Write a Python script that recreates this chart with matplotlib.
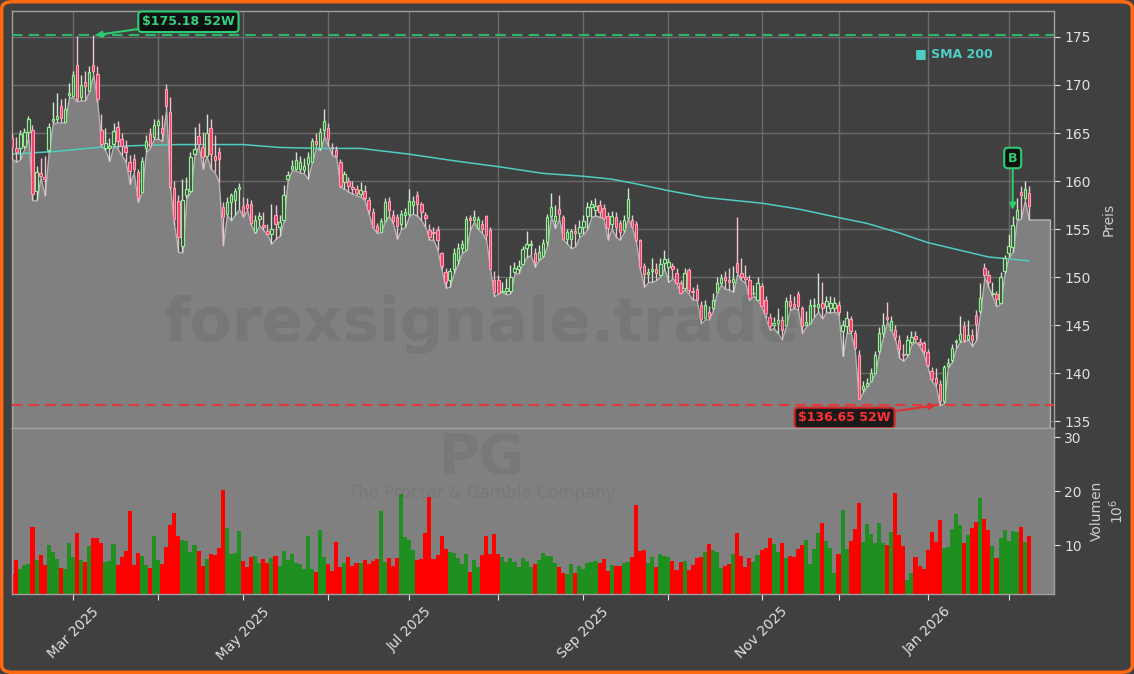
import matplotlib.pyplot as plt
import numpy as np
import pandas as pd
from matplotlib.patches import FancyBboxPatch

# handelstage (NYSE), feiertage raus
holidays = ['2025-02-17', '2025-04-18', '2025-05-26', '2025-06-19', '2025-07-04',
            '2025-09-01', '2025-11-27', '2025-12-25', '2026-01-01', '2026-01-19']
dates = pd.bdate_range('2025-02-07', '2026-02-09')
dates = dates[~dates.isin(pd.to_datetime(holidays))]

opens = [
    164.5, 163.4, 163.4, 163.7, 165.1, 165.3, 159.0, 160.8, 160.4, 163.2,
    166.2, 166.5, 167.8, 166.1, 169.0, 168.9, 172.1, 168.7, 170.3, 169.4,
    172.1, 171.1, 165.3, 163.4, 163.4, 163.9, 165.6, 164.4, 163.5, 162.0,
    162.3, 160.9, 158.9, 163.4, 164.9, 164.6, 165.8, 165.5, 169.6, 167.2,
    159.3, 157.9, 153.2, 158.5, 159.0, 162.8, 164.7, 163.5, 162.6, 165.5,
    162.6, 163.0, 157.3, 156.6, 157.8, 158.0, 159.2, 157.4, 157.6, 157.6,
    154.7, 156.1, 155.4, 154.8, 154.5, 156.5, 155.2, 156.0, 160.2, 161.3,
    161.3, 161.3, 161.1, 161.8, 162.0, 164.2, 163.4, 165.3, 165.5, 163.5,
    163.2, 162.0, 159.9, 160.0, 159.4, 159.2, 158.7, 159.0, 158.0, 156.8,
    155.3, 154.7, 155.8, 157.9, 156.5, 156.3, 155.5, 156.5, 156.6, 157.5,
    158.5, 157.6, 156.5, 154.9, 154.7, 154.9, 152.5, 150.5, 149.7, 150.9,
    151.8, 153.0, 152.8, 156.2, 156.0, 155.1, 155.5, 156.4, 154.9, 149.7,
    149.7, 148.5, 148.6, 148.6, 150.5, 150.8, 151.4, 153.0, 153.3, 152.5,
    151.9, 152.2, 153.7, 156.4, 155.8, 157.1, 156.3, 154.0, 154.0, 154.8,
    154.6, 155.2, 156.4, 157.3, 157.0, 157.5, 157.2, 156.4, 155.5, 156.3,
    155.6, 154.9, 156.2, 156.0, 155.5, 153.9, 151.2, 150.3, 150.6, 150.9,
    150.2, 151.5, 151.1, 151.2, 150.4, 149.4, 148.9, 150.7, 148.6, 148.8,
    147.1, 145.7, 146.4, 146.8, 148.5, 149.4, 150.0, 149.7, 149.5, 151.5,
    150.4, 150.0, 149.7, 148.3, 147.6, 149.1, 147.6, 145.9, 145.0, 145.2,
    145.5, 145.05, 147.5, 147.2, 148.2, 146.8, 145.0, 145.2, 147.0, 146.9,
    147.3, 146.95, 146.8, 146.8, 147.1, 144.4, 144.9, 145.6, 144.2, 141.9,
    138.4, 138.7, 139.2, 140.0, 142.3, 144.2, 145.9, 144.5, 144.5, 143.5,
    142.0, 141.95, 143.3, 143.9, 143.3, 143.1, 142.2, 140.2, 139.5, 138.9,
    137.1, 140.8, 141.4, 143.2, 143.5, 144.9, 143.6, 144.0, 146.1, 146.5,
    151.0, 150.2, 148.2, 148.2, 147.3, 150.6, 152.5, 153.1, 156.1, 158.9,
    158.2, 158.8]

highs = [
    165.0, 164.6, 165.3, 165.5, 166.8, 165.8, 161.6, 162.4, 162.6, 166.0,
    168.2, 169.2, 168.5, 168.6, 170.2, 171.5, 175.1, 171.0, 171.5, 172.0,
    175.18, 172.0, 167.0, 165.5, 164.5, 166.0, 166.2, 165.0, 164.3, 162.7,
    162.8, 161.3, 162.5, 164.8, 165.5, 166.5, 166.5, 166.9, 170.1, 168.8,
    160.0, 158.5, 160.2, 160.4, 163.0, 165.6, 166.0, 165.1, 167.0, 166.5,
    164.8, 163.5, 157.8, 158.3, 158.8, 159.3, 159.8, 158.3, 158.2, 158.0,
    156.5, 156.8, 156.8, 155.5, 157.6, 157.5, 156.5, 159.6, 161.0, 162.2,
    163.0, 162.6, 162.4, 163.0, 164.5, 165.0, 165.5, 167.5, 166.0, 164.0,
    163.6, 162.3, 161.0, 160.4, 160.0, 159.6, 159.9, 159.6, 158.3, 157.2,
    155.6, 156.2, 158.2, 158.3, 157.0, 156.6, 157.0, 157.2, 159.2, 158.4,
    159.0, 157.8, 156.8, 155.5, 155.2, 155.3, 152.6, 151.0, 151.0, 153.0,
    153.6, 153.9, 156.4, 156.5, 157.0, 156.4, 156.0, 156.5, 155.2, 150.6,
    150.2, 149.5, 149.9, 151.3, 151.6, 151.8, 153.2, 154.8, 153.9, 153.0,
    153.3, 154.0, 156.6, 158.8, 157.5, 158.5, 156.5, 155.0, 155.0, 155.5,
    156.0, 156.5, 157.8, 158.0, 158.2, 158.0, 157.6, 156.8, 156.9, 156.8,
    156.0, 156.5, 159.3, 156.5, 155.8, 154.0, 151.5, 151.0, 152.0, 151.5,
    152.0, 152.8, 152.0, 151.5, 151.0, 149.7, 151.0, 151.0, 149.0, 149.3,
    147.5, 147.6, 147.0, 148.3, 150.0, 150.3, 150.6, 151.0, 151.2, 156.3,
    152.0, 151.3, 150.2, 149.2, 150.0, 149.4, 148.0, 146.3, 145.9, 146.8,
    146.0, 147.9, 148.2, 148.0, 148.6, 147.0, 146.5, 147.7, 147.8, 150.4,
    149.5, 148.0, 148.0, 147.9, 147.5, 145.5, 146.5, 146.0, 144.5, 142.4,
    139.2, 139.5, 140.5, 142.3, 144.8, 146.3, 147.4, 146.0, 145.0, 144.0,
    143.0, 144.0, 144.4, 144.4, 143.7, 143.4, 142.5, 140.6, 140.5, 139.3,
    140.9, 141.6, 143.0, 143.6, 146.0, 145.4, 145.5, 144.6, 146.6, 149.4,
    151.5, 150.7, 149.5, 148.6, 150.5, 152.3, 154.5, 156.4, 158.2, 159.5,
    160.0, 159.5]

lows = [
    162.3, 162.0, 162.3, 163.4, 164.5, 158.0, 158.0, 160.4, 158.5, 163.0,
    166.0, 166.1, 166.1, 166.1, 168.7, 168.7, 168.3, 168.4, 168.4, 169.4,
    171.1, 168.2, 163.7, 163.2, 162.1, 163.7, 163.4, 162.7, 162.0, 159.7,
    160.9, 157.8, 158.9, 163.0, 163.5, 164.4, 164.4, 164.2, 167.5, 159.2,
    155.4, 152.6, 152.6, 158.2, 158.9, 162.7, 163.7, 161.3, 162.6, 161.3,
    160.9, 159.9, 153.3, 156.5, 155.9, 156.5, 157.1, 156.3, 157.0, 155.4,
    154.6, 155.4, 154.9, 154.4, 153.5, 154.0, 154.3, 155.8, 160.1, 161.1,
    161.1, 160.9, 160.8, 160.25, 162.0, 163.5, 163.2, 164.7, 163.7, 162.7,
    162.5, 159.4, 159.2, 158.9, 158.7, 158.5, 158.4, 158.0, 156.6, 155.2,
    154.6, 154.7, 155.8, 156.4, 155.6, 154.0, 155.0, 155.2, 156.4, 156.6,
    156.4, 155.9, 155.2, 153.9, 153.9, 152.8, 150.8, 148.9, 149.0, 150.4,
    151.4, 152.5, 152.8, 154.9, 155.8, 155.0, 154.6, 153.9, 150.8, 148.0,
    148.3, 148.5, 148.2, 148.3, 150.4, 150.4, 151.4, 152.1, 152.3, 151.1,
    151.8, 152.1, 153.2, 156.3, 155.1, 156.1, 153.9, 153.5, 153.0, 153.2,
    154.2, 154.5, 155.0, 156.3, 156.4, 156.3, 156.1, 153.9, 155.1, 154.2,
    153.9, 154.7, 156.1, 155.2, 153.7, 150.8, 149.0, 149.5, 149.5, 149.7,
    150.1, 150.9, 149.5, 149.9, 149.4, 148.3, 148.7, 148.3, 147.65, 147.65,
    145.2, 145.6, 145.6, 146.6, 148.5, 149.2, 148.8, 148.7, 148.5, 150.4,
    149.7, 149.4, 147.6, 148.1, 147.6, 146.95, 145.7, 144.5, 144.7, 144.2,
    143.5, 144.9, 146.6, 146.8, 146.6, 144.2, 144.9, 145.2, 145.9, 146.4,
    145.7, 146.4, 146.3, 146.4, 146.1, 141.8, 144.2, 144.2, 142.5, 137.3,
    138.0, 138.66, 139.2, 140.0, 142.1, 143.8, 145.4, 144.5, 143.5, 141.6,
    141.3, 141.8, 143.0, 143.3, 142.8, 142.0, 140.6, 139.2, 138.66, 136.65,
    136.9, 140.6, 141.2, 142.6, 143.3, 143.3, 143.5, 142.8, 143.5, 146.3,
    150.0, 149.0, 148.0, 146.95, 147.3, 150.4, 152.1, 152.6, 155.9, 156.1,
    158.0, 156.0]

closes = [
    163.5, 163.0, 164.9, 165.1, 166.5, 158.7, 160.9, 160.5, 160.2, 165.6,
    166.5, 166.8, 166.6, 167.5, 169.2, 171.0, 168.5, 170.0, 169.9, 171.3,
    171.5, 168.5, 163.9, 164.0, 163.7, 165.2, 164.2, 163.6, 163.0, 161.0,
    161.3, 158.2, 162.1, 164.2, 163.7, 165.8, 166.2, 165.0, 167.8, 159.4,
    156.1, 154.2, 158.0, 159.2, 162.5, 163.3, 163.9, 162.5, 165.0, 162.8,
    162.2, 162.3, 156.3, 157.8, 158.5, 159.0, 159.4, 156.6, 157.2, 155.6,
    156.0, 156.4, 155.2, 154.45, 155.0, 155.5, 155.7, 158.5, 160.6, 161.6,
    162.2, 162.0, 161.6, 162.5, 164.2, 163.9, 165.1, 166.3, 164.4, 163.4,
    162.6, 159.5, 160.7, 159.5, 159.2, 158.8, 159.1, 158.2, 157.0, 155.2,
    154.8, 155.8, 157.8, 157.0, 155.8, 155.3, 156.6, 156.8, 157.9, 157.9,
    157.6, 156.8, 156.2, 154.2, 154.6, 153.9, 151.2, 149.5, 150.6, 152.5,
    153.0, 153.5, 156.1, 156.0, 156.3, 156.1, 155.0, 154.4, 150.8, 148.5,
    148.3, 148.6, 148.9, 150.0, 151.0, 151.2, 152.9, 153.5, 153.5, 151.6,
    152.6, 153.6, 156.3, 157.3, 156.4, 156.6, 154.0, 154.7, 154.8, 154.6,
    155.2, 155.8, 157.3, 157.6, 157.4, 156.8, 156.2, 155.1, 156.4, 155.2,
    154.7, 155.9, 158.1, 155.2, 153.9, 151.1, 150.3, 150.5, 150.9, 150.4,
    151.4, 151.9, 151.6, 150.8, 149.4, 148.3, 150.4, 148.7, 148.5, 147.65,
    145.6, 147.1, 145.9, 147.6, 149.4, 149.9, 149.7, 149.5, 149.8, 150.5,
    150.0, 149.8, 147.8, 148.4, 149.4, 146.95, 146.3, 144.9, 145.2, 145.5,
    144.5, 147.5, 147.0, 146.9, 146.95, 144.9, 145.3, 147.1, 147.0, 147.2,
    146.8, 147.5, 147.3, 147.3, 146.4, 145.05, 145.7, 144.4, 142.6, 137.3,
    138.7, 139.0, 140.0, 141.9, 144.2, 145.0, 145.6, 145.4, 143.8, 142.5,
    141.9, 143.5, 143.8, 143.6, 143.0, 142.3, 140.9, 139.35, 139.0, 137.1,
    140.6, 141.05, 142.6, 143.4, 144.1, 143.5, 144.0, 143.5, 145.1, 147.8,
    150.2, 149.5, 148.4, 147.7, 150.06, 151.95, 153.2, 155.4, 157.0, 158.6,
    159.2, 157.4]

# volumen in mio
volumes = [
    4.6, 7.2, 5.55, 6.3, 6.5, 13.4, 7.2, 8.2, 6.3, 10.0,
    8.7, 7.4, 5.75, 5.55, 10.4, 7.8, 12.2, 7.2, 6.85, 9.8,
    11.3, 11.3, 10.4, 6.85, 7.0, 10.2, 6.3, 7.8, 8.9, 16.3,
    6.3, 8.5, 8.0, 6.3, 5.75, 11.7, 7.2, 6.5, 9.6, 13.7,
    15.9, 11.7, 10.9, 10.75, 8.7, 10.0, 8.9, 6.1, 7.4, 8.3,
    8.15, 9.45, 20.2, 13.15, 8.3, 8.5, 12.6, 7.0, 5.9, 7.8,
    8.0, 6.7, 7.4, 6.7, 7.6, 8.0, 6.1, 8.9, 7.2, 8.3,
    6.7, 6.5, 5.55, 11.7, 5.55, 5.0, 12.8, 7.8, 6.5, 5.2,
    10.55, 5.9, 6.7, 7.8, 6.1, 6.7, 6.6, 7.2, 6.5, 7.0,
    7.35, 16.3, 6.85, 7.6, 6.1, 7.6, 19.45, 11.5, 10.9, 9.1,
    7.2, 7.4, 12.2, 18.9, 7.4, 8.15, 11.7, 9.3, 8.7, 8.5,
    7.6, 6.5, 8.3, 5.0, 7.2, 5.9, 8.15, 11.7, 8.3, 12.05,
    8.3, 7.8, 6.85, 7.6, 6.85, 5.9, 7.6, 7.0, 5.9, 6.5,
    7.2, 8.5, 8.0, 8.0, 6.7, 5.9, 4.8, 4.6, 6.5, 4.8,
    6.1, 5.55, 6.7, 6.85, 7.0, 6.7, 7.4, 5.2, 6.3, 6.1,
    6.1, 6.7, 6.85, 7.8, 17.4, 8.9, 9.1, 6.7, 7.8, 5.9,
    8.3, 8.0, 7.8, 7.0, 5.4, 6.85, 7.0, 5.4, 6.3, 7.6,
    7.8, 8.7, 10.2, 9.1, 8.7, 5.75, 6.1, 6.5, 8.3, 12.2,
    8.0, 5.9, 7.6, 6.85, 8.15, 9.1, 9.45, 11.3, 10.2, 8.7,
    10.4, 7.6, 8.0, 7.8, 9.3, 10.0, 10.9, 6.5, 9.3, 12.2,
    14.1, 10.75, 9.45, 4.8, 8.3, 16.5, 9.3, 10.75, 13.0, 17.8,
    10.55, 13.9, 12.05, 10.4, 14.1, 10.4, 10.0, 12.4, 19.6, 11.85,
    9.8, 3.5, 4.8, 7.8, 6.1, 5.55, 9.1, 12.4, 10.55, 14.6,
    9.45, 9.6, 13.0, 15.7, 13.7, 10.4, 11.85, 13.15, 14.3, 18.7,
    14.8, 12.8, 9.8, 7.6, 11.3, 12.8, 10.75, 12.6, 12.4, 13.3,
    10.55, 11.7]

# SMA 200 (stuetzpunkte)
sma_idx = [0, 11, 21, 31, 41, 51, 57, 66, 76, 86, 98, 106, 111, 120, 131,
           141, 148, 153, 162, 171, 185, 194, 204, 211, 219, 226, 236, 241, 246, 251]
sma_vals = [162.8, 163.1, 163.5, 163.7, 163.8, 163.8, 163.8, 163.5, 163.4, 163.4,
            162.8, 162.3, 162.0, 161.5, 160.8, 160.5, 160.2, 159.8, 159.0, 158.3,
            157.7, 157.1, 156.2, 155.6, 154.6, 153.6, 152.6, 152.1, 151.9, 151.7]

buy_idx = 247
ticker = 'PG'
company = 'The Procter & Gamble Company'

lens = {len(dates), len(opens), len(highs), len(lows), len(closes), len(volumes)}
if len(lens) != 1:
    raise ValueError(f'laengen: {len(dates)} {len(opens)} {len(highs)} {len(lows)} {len(closes)} {len(volumes)}')

o = np.array(opens)
h = np.array(highs)
l = np.array(lows)
c = np.array(closes)
v = np.array(volumes)
n = len(c)
x = np.arange(n)
up = c >= o

BG = '#404040'
TXT = '#e0e0e0'

fig = plt.figure(figsize=(11.34, 6.74), dpi=100, facecolor=BG)
ax = fig.add_axes([12/1134, 1 - 428/674, 1042/1134, 417/674], facecolor=BG)
axv = fig.add_axes([12/1134, 1 - 594/674, 1042/1134, 166/674], facecolor='#808080', sharex=ax)

# flaeche unter den tiefs, am ende flach verlaengert
xf = np.append(x, n - 1 + 5.2)
lf = np.append(l, l[-1])
ax.fill_between(xf, lf, 120, facecolor='#808080', edgecolor='#b4b4b4', lw=1, zorder=2)

ax.plot(sma_idx, sma_vals, color='#4ecdc4', lw=1.1, zorder=3)

# kerzen
wick_col = np.where(up, '#cfe6cf', '#f0c2cb')
ax.vlines(x, l, h, colors=wick_col, lw=1, zorder=3.5)
body = np.maximum(np.abs(c - o), 0.08)
ax.bar(x[up], body[up], bottom=o[up], width=0.6, color=BG, edgecolor='#90ee90', lw=0.9, zorder=4)
ax.bar(x[~up], body[~up], bottom=c[~up], width=0.6, color='#ee3f66', edgecolor='#ff9db3', lw=0.8, zorder=4)

# 52W hoch / tief
hi_i = int(np.argmax(h))
lo_i = int(np.argmin(l))
hi, lo = h[hi_i], l[lo_i]
ax.axhline(hi, color='#2fb565', ls=(0, (5, 3)), lw=1.5, zorder=3)
ax.axhline(lo, color='#e03a3a', ls=(0, (5, 3)), lw=1.5, zorder=3)
ax.annotate(f'${hi:.2f} 52W', xy=(hi_i + 0.5, hi), xytext=(hi_i + 23.5, hi + 1.4),
            color='#35d07f', fontsize=9, fontweight='bold', ha='center', va='center',
            bbox=dict(boxstyle='round,pad=0.3', fc='#101010', ec='#2ecc71', lw=1.5),
            arrowprops=dict(arrowstyle='-|>', color='#2ecc71', lw=1.5, shrinkA=0, shrinkB=0),
            zorder=6)
ax.annotate(f'${lo:.2f} 52W', xy=(lo_i - 1, lo), xytext=(lo_i - 23.5, lo - 1.3),
            color='#ff3030', fontsize=9, fontweight='bold', ha='center', va='center',
            bbox=dict(boxstyle='round,pad=0.3', fc='#1a1a1a', ec='#d62828', lw=1.5),
            arrowprops=dict(arrowstyle='-|>', color='#e03030', lw=1.5, shrinkA=0, shrinkB=0),
            zorder=6)
ax.annotate('B', xy=(buy_idx, h[buy_idx] + 0.6), xytext=(buy_idx, h[buy_idx] + 6.0),
            color='#2ecc71', fontsize=9, fontweight='bold', ha='center', va='center',
            bbox=dict(boxstyle='round,pad=0.3', fc='#101010', ec='#2ecc71', lw=1.5),
            arrowprops=dict(arrowstyle='-|>', color='#2ecc71', lw=1.5, shrinkA=0, shrinkB=0),
            zorder=6)

ax.text(0.8666, 0.897, '\u25a0 SMA 200', transform=ax.transAxes, color='#4ecdc4',
        fontsize=9, fontweight='bold', ha='left', va='center', zorder=6)

# volumen
vcol = np.where(up, '#1f8f1f', '#ff0000')
axv.bar(x, v, width=1.0, color=vcol, lw=0, zorder=2)

# achsen
ax.set_xlim(-0.06, n + 5.2)
ax.set_ylim(134.3, 177.7)
axv.set_ylim(0.93, 31.7)

months = dates.to_period('M')
starts = [i for i in range(1, n) if months[i] != months[i - 1]]
labels = [dates[i].strftime('%b %Y') if dates[i].month % 2 == 1 else '' for i in starts]
axv.set_xticks(starts)
axv.set_xticklabels(labels, rotation=45, ha='center', fontsize=10, color=TXT)

ax.set_yticks(np.arange(135, 176, 5))
axv.set_yticks([10, 20, 30])
for a in (ax, axv):
    a.yaxis.tick_right()
    a.yaxis.set_label_position('right')
    a.tick_params(axis='y', colors=TXT, labelsize=10, length=4)
    for s in a.spines.values():
        s.set_color('#a0a0a0')
        s.set_linewidth(1)
ax.tick_params(axis='x', labelbottom=False, length=0)
axv.tick_params(axis='x', colors=TXT, length=4)

ax.grid(True, color='#6a6a6a', lw=1)
ax.set_axisbelow(True)

ax.set_ylabel('Preis', color='#cccccc', fontsize=10, labelpad=8)
axv.set_ylabel('Volumen\n$10^{6}$', color='#cccccc', fontsize=10, labelpad=6)

# wasserzeichen
fig.text(0.425, 0.518, 'forexsignale.trade', fontsize=44, fontweight='bold',
         color='black', alpha=0.065, ha='center', va='center')
fig.text(0.425, 0.32, ticker, fontsize=40, fontweight='bold',
         color='black', alpha=0.06, ha='center', va='center')
fig.text(0.425, 0.268, company, fontsize=12, color='black', alpha=0.06,
         ha='center', va='center')

# oranger rahmen
fig.patches.append(FancyBboxPatch((0.0015, 0.0025), 0.997, 0.995,
                                  boxstyle='round,pad=0,rounding_size=0.01',
                                  transform=fig.transFigure, fc='none',
                                  ec='#ff6a10', lw=2.5, zorder=10))

fig.savefig('out.png', dpi=100, facecolor=fig.get_facecolor())
